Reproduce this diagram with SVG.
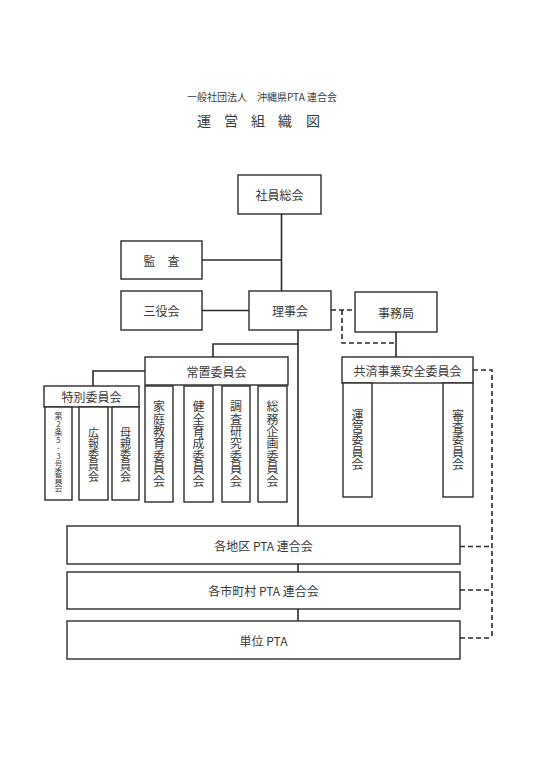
<svg xmlns="http://www.w3.org/2000/svg" width="537" height="760" viewBox="0 0 537 760">
<style>
.bg{fill:#ffffff}
.box{fill:#ffffff;stroke:#2b2b2b;stroke-width:1.4}
.ln{fill:none;stroke:#2b2b2b;stroke-width:1.6}
.dash{fill:none;stroke:#2b2b2b;stroke-width:1.6;stroke-dasharray:5 3}
text{font-family:"Noto Sans CJK JP","Noto Sans",sans-serif;fill:#3a3a3a;dominant-baseline:central}
.h{text-anchor:middle;font-size:12px}
.v{text-anchor:middle;font-size:12px;writing-mode:vertical-rl;letter-spacing:0.4px}
</style>
<rect class="bg" x="0" y="0" width="537" height="760"/>
<g id="title">
<text x="262" y="96" text-anchor="middle" font-size="10" fill="#444">一般社団法人　沖縄県PTA 連合会</text>
<text y="120" font-size="14" fill="#444"><tspan x="197">運</tspan><tspan x="224">営</tspan><tspan x="251">組</tspan><tspan x="278">織</tspan><tspan x="306">図</tspan></text>
</g>
<g id="connectors">
<path class="ln" d="M281.5 214 V291"/>
<path class="ln" d="M202 260 H281.5"/>
<path class="ln" d="M202 310.5 H249"/>
<path class="ln" d="M298 330 V526"/>
<path class="ln" d="M298 344 H213 V357"/>
<path class="ln" d="M145 371 H93 V386"/>
<path class="ln" d="M396 332 V357"/>
<path class="ln" d="M298 564 V572 M298 609 V621"/>
<path class="dash" d="M331 310 H355"/>
<path class="dash" d="M342 310 V343 H396"/>
<path class="dash" d="M473 370 H492 V638"/>
<path class="dash" d="M460 546.5 H492 M460 590 H492 M460 638 H492"/>
</g>
<g id="shain"><rect class="box" x="238" y="175" width="83" height="39"/><text class="h" x="279.5" y="194.5">社員総会</text></g>
<g id="kansa"><rect class="box" x="121" y="241" width="81" height="38"/><text class="h" x="161.5" y="260">監　査</text></g>
<g id="sanyaku"><rect class="box" x="121" y="291" width="81" height="39"/><text class="h" x="161.5" y="310.5">三役会</text></g>
<g id="rijikai"><rect class="box" x="249" y="291" width="82" height="39"/><text class="h" x="290" y="310.5">理事会</text></g>
<g id="jimukyoku"><rect class="box" x="355" y="292" width="82" height="40"/><text class="h" x="396" y="312">事務局</text></g>
<g id="kyosai"><rect class="box" x="342" y="357" width="131" height="26"/><text class="h" x="407.5" y="370">共済事業安全委員会</text></g>
<g id="uneii"><rect class="box" x="343" y="383" width="29" height="114"/><text class="v" x="357.5" y="440">運営委員会</text></g>
<g id="shinsa"><rect class="box" x="443" y="383" width="30" height="114"/><text class="v" x="458" y="440">審査委員会</text></g>
<g id="jochi"><rect class="box" x="145" y="357" width="143" height="28"/><text class="h" x="216.5" y="371">常置委員会</text></g>
<g id="tokubetsu"><rect class="box" x="44" y="386" width="95" height="21"/><text class="h" x="91.5" y="396.5" font-size="10">特別委員会</text></g>
<g id="dai2jo"><rect class="box" x="45" y="407" width="27" height="93"/><text class="v" x="58.5" y="452" style="font-size:8px;letter-spacing:0;text-orientation:upright">第2条5-3号委員会</text></g>
<g id="koho"><rect class="box" x="79" y="407" width="29" height="93"/><text class="v" x="93.5" y="454.5" style="font-size:11px;letter-spacing:0">広報委員会</text></g>
<g id="hahaoya"><rect class="box" x="112" y="407" width="27" height="93"/><text class="v" x="125.5" y="454.5" style="font-size:11px;letter-spacing:0">母親委員会</text></g>
<g id="katei"><rect class="box" x="145" y="386" width="28" height="116"/><text class="v" x="159" y="444">家庭教育委員会</text></g>
<g id="kenzen"><rect class="box" x="184" y="386" width="29" height="116"/><text class="v" x="198.5" y="444">健全育成委員会</text></g>
<g id="chosa"><rect class="box" x="222" y="386" width="28" height="116"/><text class="v" x="236" y="444">調査研究委員会</text></g>
<g id="somu"><rect class="box" x="258" y="386" width="29" height="116"/><text class="v" x="272.5" y="444">総務企画委員会</text></g>
<g id="kakuchiku"><rect class="box" x="67" y="526" width="393" height="38"/><text class="h" x="263.5" y="545">各地区 PTA 連合会</text></g>
<g id="kakushichoson"><rect class="box" x="67" y="572" width="393" height="37"/><text class="h" x="263.5" y="590.5">各市町村 PTA 連合会</text></g>
<g id="tanipta"><rect class="box" x="67" y="621" width="393" height="38"/><text class="h" x="263.5" y="640">単位 PTA</text></g>
</svg>
